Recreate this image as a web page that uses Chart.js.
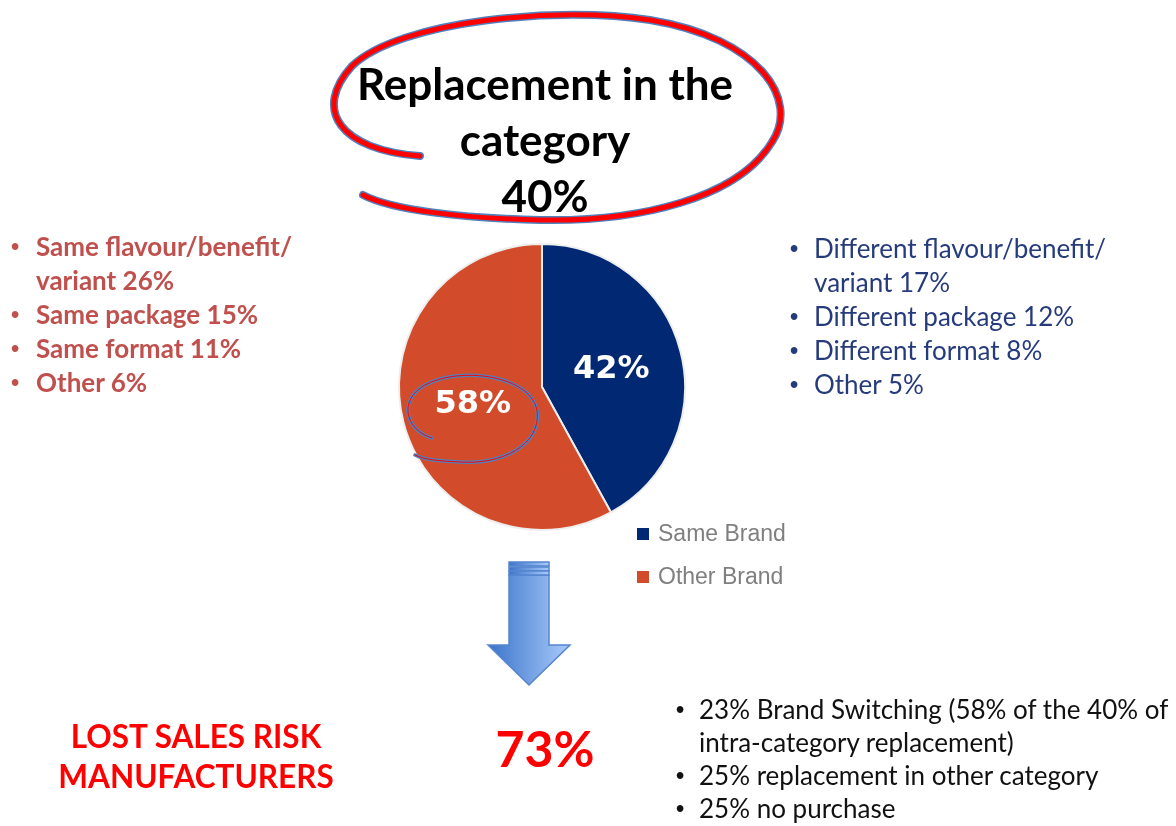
<!DOCTYPE html>
<html lang="en">
<head>
  <meta charset="UTF-8">
  <title>Replacement in the category</title>
  <script src="https://cdn.jsdelivr.net/npm/chart.js"></script>
  <style>
    body {
      margin: 0;
      background: #ffffff;
      font-family: Lato, "Open Sans", sans-serif;
    }
    #page {
      position: relative;
      width: 1176px;
      height: 826px;
      overflow: hidden;
    }
    #pieChart {
      position: absolute;
      left: 392px;
      top: 237px;
    }
    #overlay {
      position: absolute;
      left: 0;
      top: 0;
    }
    .block {
      position: absolute;
      white-space: pre;
    }
    .item {
      position: relative;
    }
    .item .dot {
      position: absolute;
      top: 0;
      font-weight: 700;
      font-family: Arial, "Liberation Sans", sans-serif;
      font-size: 0.9em;
    }
    #title {
      left: 245px;
      width: 600px;
      top: 55px;
      text-align: center;
      font-weight: 700;
      font-size: 44px;
      line-height: 56px;
      color: #000;
    }
    #sameList {
      left: 36px;
      top: 229px;
      font-weight: 700;
      font-size: 26px;
      line-height: 34px;
      color: #C0504D;
    }
    #otherList {
      left: 814px;
      top: 231px;
      font-size: 26px;
      line-height: 34px;
      color: #263B7C;
    }
    #lossList {
      left: 699px;
      top: 693px;
      font-size: 26px;
      line-height: 33px;
      color: #111;
    }
    #riskLabel {
      left: 0;
      width: 392px;
      top: 716px;
      text-align: center;
      font-weight: 700;
      font-size: 31.5px;
      line-height: 40px;
      color: #FF0000;
    }
    #bigNumber {
      left: 445px;
      width: 200px;
      top: 718px;
      text-align: center;
      font-weight: 700;
      font-size: 50px;
      line-height: 60px;
      color: #FF0000;
    }
    #legend {
      position: absolute;
      left: 637px;
      top: 512px;
      font-family: "Liberation Sans", Arial, sans-serif;
      font-size: 23px;
      color: #7F7F7F;
    }
    #legend .row {
      height: 43px;
      display: flex;
      align-items: center;
    }
    #legend .box {
      width: 12px;
      height: 12px;
      margin-right: 9px;
    }
  </style>
</head>
<body>
  <div id="page">
    <canvas id="pieChart" width="300" height="300"></canvas>

    <svg id="overlay" width="1176" height="826">
      <defs>
        <linearGradient id="arrowFill" x1="0" y1="0" x2="1" y2="0">
          <stop offset="0" stop-color="#3C74CA"/>
          <stop offset="1" stop-color="#A9CBFB"/>
        </linearGradient>
      </defs>
      <!-- hand drawn loop round the title -->
      <path d="M 420 156 C 340 150, 312 110, 352 66 C 400 20, 560 6, 650 20 C 760 38, 800 100, 772 142 C 738 198, 640 222, 540 220 C 460 218, 392 210, 363 195"
            fill="none" stroke="#4F81BD" stroke-width="8" stroke-linecap="round"/>
      <path d="M 420 156 C 340 150, 312 110, 352 66 C 400 20, 560 6, 650 20 C 760 38, 800 100, 772 142 C 738 198, 640 222, 540 220 C 460 218, 392 210, 363 195"
            fill="none" stroke="#FF0000" stroke-width="5" stroke-linecap="round"/>
      <!-- arrow down -->
      <g stroke="#5585CF" stroke-width="1.5">
        <polygon points="509,575 549,575 549,645 570,645 529,685 488,645 509,645" fill="url(#arrowFill)"/>
        <rect x="509" y="562" width="40" height="4" fill="url(#arrowFill)"/>
        <rect x="509" y="567" width="40" height="4" fill="url(#arrowFill)"/>
        <rect x="509" y="571" width="40" height="4" fill="url(#arrowFill)"/>
      </g>
    </svg>

    <div id="title" class="block"></div>
    <div id="sameList" class="block"></div>
    <div id="otherList" class="block"></div>
    <div id="riskLabel" class="block"></div>
    <div id="bigNumber" class="block"></div>
    <div id="lossList" class="block"></div>
    <div id="legend"></div>

    <svg id="circle58" width="1176" height="826" style="position:absolute;left:0;top:0;">
      <path d="M 432 438 C 405 430, 398 400, 425 385 C 460 366, 530 375, 537 410 C 542 446, 500 465, 460 462 C 440 461, 425 460, 415 455"
            fill="none" stroke="#4F81BD" stroke-width="3.5" stroke-linecap="round"/>
      <path d="M 432 438 C 405 430, 398 400, 425 385 C 460 366, 530 375, 537 410 C 542 446, 500 465, 460 462 C 440 461, 425 460, 415 455"
            fill="none" stroke="#FF0000" stroke-width="1" stroke-linecap="round"/>
    </svg>
  </div>

  <script>
    // data
    const titleLines = ['Replacement in the', 'category', '40%'];
    const pieLabels = ['Same Brand', 'Other Brand'];
    const pieValues = [42, 58];
    const pieColors = ['#002873', '#D24B2A'];
    const sameBrandItems = ['Same flavour/benefit/\nvariant 26%', 'Same package 15%', 'Same format 11%', 'Other 6%'];
    const otherBrandItems = ['Different flavour/benefit/\nvariant 17%', 'Different package 12%', 'Different format 8%', 'Other 5%'];
    const riskLines = ['LOST SALES RISK', 'MANUFACTURERS'];
    const riskTotal = '73%';
    const lossItems = ['23% Brand Switching (58% of the 40% of\nintra-category replacement)', '25% replacement in other category', '25% no purchase'];

    // fills a block with bullet items
    function fillList(id, items, dotLeft) {
      const box = document.getElementById(id);
      items.forEach(function(text) {
        const item = document.createElement('div');
        item.className = 'item';
        const dot = document.createElement('span');
        dot.className = 'dot';
        dot.textContent = '•';
        dot.style.left = dotLeft + 'px';
        item.appendChild(dot);
        item.appendChild(document.createTextNode(text));
        box.appendChild(item);
      });
    }

    document.getElementById('title').textContent = titleLines.join('\n');
    document.getElementById('riskLabel').textContent = riskLines.join('\n');
    document.getElementById('bigNumber').textContent = riskTotal;
    fillList('sameList', sameBrandItems, -25);
    fillList('otherList', otherBrandItems, -24);
    fillList('lossList', lossItems, -23);

    // legend from the pie data
    const legend = document.getElementById('legend');
    pieLabels.forEach(function(label, i) {
      const row = document.createElement('div');
      row.className = 'row';
      const box = document.createElement('span');
      box.className = 'box';
      box.style.background = pieColors[i];
      row.appendChild(box);
      row.appendChild(document.createTextNode(label));
      legend.appendChild(row);
    });

    // percent labels inside the slices
    const sliceLabels = {
      id: 'sliceLabels',
      afterDatasetsDraw(chart) {
        const ctx = chart.ctx;
        ctx.save();
        ctx.fillStyle = '#ffffff';
        ctx.font = 'bold 32px "DejaVu Sans", Verdana, sans-serif';
        ctx.textAlign = 'center';
        ctx.textBaseline = 'middle';
        chart.getDatasetMeta(0).data.forEach(function(arc, i) {
          const p = arc.tooltipPosition();
          ctx.fillText(pieValues[i] + '%', p.x, p.y);
        });
        ctx.restore();
      }
    };

    new Chart(document.getElementById('pieChart'), {
      type: 'pie',
      data: {
        labels: pieLabels,
        datasets: [{
          data: pieValues,
          backgroundColor: pieColors,
          borderColor: '#eeeeee',
          borderWidth: 2
        }]
      },
      options: {
        responsive: false,
        animation: false,
        layout: { padding: 6 },
        plugins: {
          legend: { display: false },
          tooltip: { enabled: false }
        }
      },
      plugins: [sliceLabels]
    });
  </script>
</body>
</html>
